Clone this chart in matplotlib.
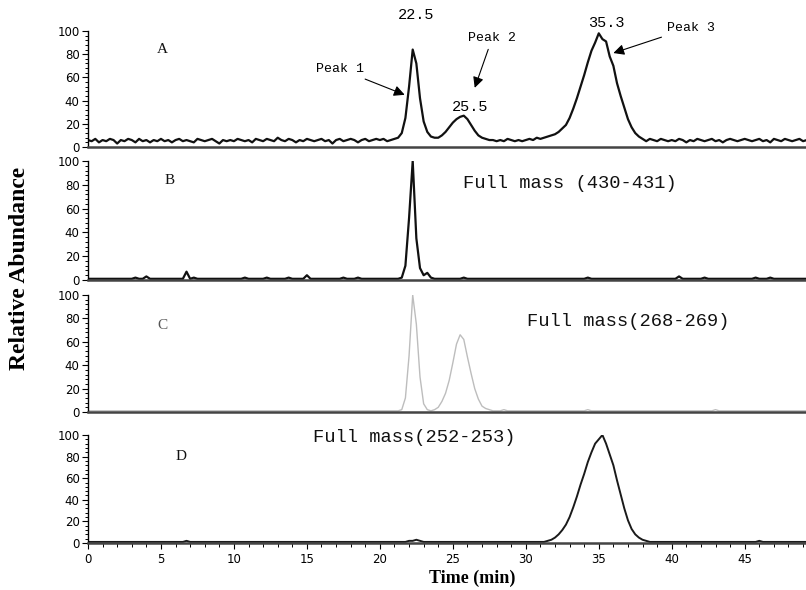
import numpy as np
import matplotlib
matplotlib.use("Agg")
import matplotlib.pyplot as plt
from matplotlib.ticker import MultipleLocator

# sampling grid (min), 0.25-min steps from 0 to 49.25
time_min = np.arange(0, 49.5, 0.25)

# Panel A: total chromatogram
trace_a = [
    6, 5, 7, 4, 6, 5, 7, 6, 3, 6, 5, 7, 6, 4, 7, 5, 6, 4, 6, 5,
    7, 5, 6, 4, 6, 7, 5, 6, 5, 4, 7, 6, 5, 6, 7, 5, 3, 6, 5, 6,
    5, 7, 6, 5, 6, 4, 7, 6, 5, 7, 6, 5, 8, 6, 5, 7, 6, 4, 6, 5,
    7, 6, 5, 6, 7, 5, 6, 3, 6, 7, 5, 6, 7, 6, 4, 6, 7, 5, 6, 7,
    6, 7, 5, 6, 7, 8, 12, 25, 52, 84, 72, 42, 22, 13, 9, 8, 8, 10, 13, 17,
    21, 24, 26, 27, 24, 19, 14, 10, 8, 7, 6, 6, 5, 6, 5, 7, 6, 5, 6, 5,
    6, 7, 6, 8, 7, 8, 9, 10, 11, 13, 16, 19, 25, 33, 42, 52, 62, 73, 83, 90,
    98, 93, 91, 78, 70, 55, 44, 34, 24, 17, 12, 9, 7, 5, 7, 6, 5, 7, 6, 5,
    6, 5, 7, 6, 4, 6, 5, 7, 6, 5, 6, 7, 5, 6, 4, 6, 7, 6, 5, 6,
    7, 6, 5, 6, 7, 5, 6, 4, 7, 6, 5, 7, 6, 5, 6, 7, 5, 6,
]

# Panel B: full mass (430-431)
trace_b = [
    1, 1, 1, 1, 1, 1, 1, 1, 1, 1, 1, 1, 1, 2, 1, 1, 3, 1, 1, 1,
    1, 1, 1, 1, 1, 1, 1, 7, 1, 2, 1, 1, 1, 1, 1, 1, 1, 1, 1, 1,
    1, 1, 1, 2, 1, 1, 1, 1, 1, 2, 1, 1, 1, 1, 1, 2, 1, 1, 1, 1,
    4, 1, 1, 1, 1, 1, 1, 1, 1, 1, 2, 1, 1, 1, 2, 1, 1, 1, 1, 1,
    1, 1, 1, 1, 1, 1, 2, 12, 52, 100, 35, 10, 4, 6, 2, 1, 1, 1, 1, 1,
    1, 1, 1, 2, 1, 1, 1, 1, 1, 1, 1, 1, 1, 1, 1, 1, 1, 1, 1, 1,
    1, 1, 1, 1, 1, 1, 1, 1, 1, 1, 1, 1, 1, 1, 1, 1, 1, 2, 1, 1,
    1, 1, 1, 1, 1, 1, 1, 1, 1, 1, 1, 1, 1, 1, 1, 1, 1, 1, 1, 1,
    1, 1, 3, 1, 1, 1, 1, 1, 1, 2, 1, 1, 1, 1, 1, 1, 1, 1, 1, 1,
    1, 1, 1, 2, 1, 1, 1, 2, 1, 1, 1, 1, 1, 1, 1, 1, 1, 1,
]

# Panel C: full mass (268-269)
trace_c = [
    1, 1, 1, 1, 1, 1, 1, 1, 1, 1, 1, 1, 1, 1, 1, 1, 1, 1, 1, 1,
    1, 1, 1, 1, 1, 1, 1, 1, 1, 1, 1, 1, 1, 1, 1, 1, 1, 1, 1, 1,
    1, 1, 1, 1, 1, 1, 1, 1, 1, 1, 1, 1, 1, 1, 1, 1, 1, 1, 1, 1,
    1, 1, 1, 1, 1, 1, 1, 1, 1, 1, 1, 1, 1, 1, 1, 1, 1, 1, 1, 1,
    1, 1, 1, 1, 1, 1, 2, 12, 48, 100, 75, 30, 7, 2, 1, 2, 4, 9, 16, 27,
    42, 58, 66, 62, 47, 33, 20, 11, 5, 3, 2, 1, 1, 1, 2, 1, 1, 1, 1, 1,
    1, 1, 1, 1, 1, 1, 1, 1, 1, 1, 1, 1, 1, 1, 1, 1, 1, 2, 1, 1,
    1, 1, 1, 1, 1, 1, 1, 1, 1, 1, 1, 1, 1, 1, 1, 1, 1, 1, 1, 1,
    1, 1, 1, 1, 1, 1, 1, 1, 1, 1, 1, 1, 2, 1, 1, 1, 1, 1, 1, 1,
    1, 1, 1, 1, 1, 1, 1, 1, 1, 1, 1, 1, 1, 1, 1, 1, 1, 1,
]

# Panel D: full mass (252-253)
trace_d = [
    1, 1, 1, 1, 1, 1, 1, 1, 1, 1, 1, 1, 1, 1, 1, 1, 1, 1, 1, 1,
    1, 1, 1, 1, 1, 1, 1, 2, 1, 1, 1, 1, 1, 1, 1, 1, 1, 1, 1, 1,
    1, 1, 1, 1, 1, 1, 1, 1, 1, 1, 1, 1, 1, 1, 1, 1, 1, 1, 1, 1,
    1, 1, 1, 1, 1, 1, 1, 1, 1, 1, 1, 1, 1, 1, 1, 1, 1, 1, 1, 1,
    1, 1, 1, 1, 1, 1, 1, 1, 2, 2, 3, 2, 1, 1, 1, 1, 1, 1, 1, 1,
    1, 1, 1, 1, 1, 1, 1, 1, 1, 1, 1, 1, 1, 1, 1, 1, 1, 1, 1, 1,
    1, 1, 1, 1, 1, 1, 2, 3, 5, 8, 12, 17, 24, 33, 43, 54, 64, 75, 84, 92,
    96, 100, 92, 82, 72, 58, 45, 32, 21, 13, 8, 5, 3, 2, 1, 1, 1, 1, 1, 1,
    1, 1, 1, 1, 1, 1, 1, 1, 1, 1, 1, 1, 1, 1, 1, 1, 1, 1, 1, 1,
    1, 1, 1, 1, 2, 1, 1, 1, 1, 1, 1, 1, 1, 1, 1, 1, 1, 1,
]

panel_letters = ["A", "B", "C", "D"]
mass_labels = [None, "Full mass (430-431)", "Full mass(268-269)", "Full mass(252-253)"]
peak_times = ["22.5", "25.5", "35.3"]
peak_names = ["Peak 1", "Peak 2", "Peak 3"]
x_ticks = [0, 5, 10, 15, 20, 25, 30, 35, 40, 45]
y_ticks = [0, 20, 40, 60, 80, 100]

fig = plt.figure(figsize=(8.06, 5.90), dpi=100)
W, H = 806.0, 590.0
x0 = 88 / W
# (bottom_px, top_px) of each panel
boxes = [(147, 31), (280, 161), (412, 295), (543, 435)]
traces = [trace_a, trace_b, trace_c, trace_d]
colors = ["#111111", "#111111", "#bdbdbd", "#1a1a1a"]
lws = [1.6, 1.6, 1.0, 1.4]
letter_pos = [(5.1, 84), (5.6, 84), (5.1, 74), (6.4, 80)]
mass_pos = [None, (25.7, 81.5), (30.1, 77), (15.4, 98)]

axes = []
for i, (b, t) in enumerate(boxes):
    ax = fig.add_axes([x0, 1 - b / H, 1 - x0, (b - t) / H])
    ax.plot(time_min, traces[i], color=colors[i], lw=lws[i])
    ax.set_xlim(0, 49.2)
    ax.set_ylim(0, 100)
    for s in ["top", "right"]:
        ax.spines[s].set_visible(False)
    ax.spines["left"].set_linewidth(1.0)
    ax.spines["bottom"].set_linewidth(1.8)
    ax.spines["bottom"].set_color("#444444")
    ax.set_yticks(y_ticks)
    ax.yaxis.set_minor_locator(MultipleLocator(4))
    ax.tick_params(axis="y", which="major", length=4, width=0.8, labelsize=8.5, pad=2)
    ax.tick_params(axis="y", which="minor", length=2.5, width=0.7)
    if i < 3:
        ax.set_xticks([])
    else:
        ax.set_xticks(x_ticks)
        ax.xaxis.set_minor_locator(MultipleLocator(1))
        ax.tick_params(axis="x", which="major", length=4, width=0.8, labelsize=8.5, pad=3)
        ax.tick_params(axis="x", which="minor", length=3, width=0.7)
    ax.patch.set_alpha(0)
    lx, ly = letter_pos[i]
    ax.text(lx, ly, panel_letters[i], fontsize=11, family="Liberation Serif",
            color="#555555" if i == 2 else "#111111", ha="center", va="center")
    if mass_labels[i]:
        mx, my = mass_pos[i]
        ax.text(mx, my, mass_labels[i], fontsize=13.5, family="Liberation Mono",
                ha="left", va="center", color="#111111")
    axes.append(ax)

axA = axes[0]
axA.text(22.5, 114, peak_times[0], fontsize=11, family="Liberation Mono", ha="center", va="center")
axA.text(26.2, 34.5, peak_times[1], fontsize=11, family="Liberation Mono", ha="center", va="center")
axA.text(35.5, 107, peak_times[2], fontsize=11, family="Liberation Mono", ha="center", va="center")

arrow = dict(arrowstyle="-|>", color="black", lw=0.8, mutation_scale=16, shrinkA=2, shrinkB=0)
axA.annotate(peak_names[0], xy=(21.7, 45), xytext=(17.3, 67), fontsize=9.5,
             family="Liberation Mono", ha="center", va="center", arrowprops=arrow)
axA.annotate(peak_names[1], xy=(26.5, 51), xytext=(27.7, 94), fontsize=9.5,
             family="Liberation Mono", ha="center", va="center", arrowprops=arrow)
axA.annotate(peak_names[2], xy=(36.0, 81), xytext=(41.3, 103), fontsize=9.5,
             family="Liberation Mono", ha="center", va="center", arrowprops=arrow,
             annotation_clip=False)

fig.text(19.5 / W, 1 - 268 / H, "Relative Abundance", rotation=90, fontsize=17,
         fontweight="bold", family="Liberation Serif", ha="center", va="center")
fig.text(472 / W, 1 - 578 / H, "Time (min)", fontsize=13, fontweight="bold",
         family="Liberation Serif", ha="center", va="center")

fig.savefig("out.png", dpi=100, facecolor="white")
